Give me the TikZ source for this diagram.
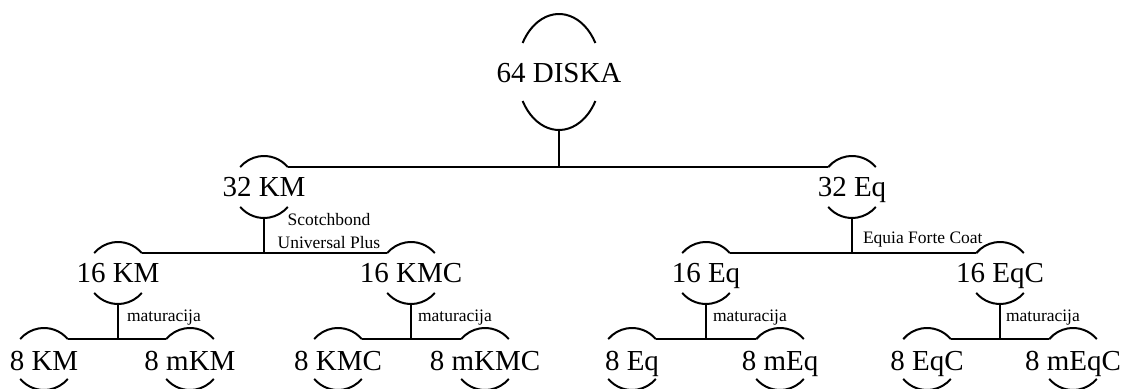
\documentclass[tikz,border=0pt]{standalone}
\usepackage{fontspec}
\setmainfont{Liberation Serif}
\usetikzlibrary{shapes.geometric,calc}
\begin{document}
\begin{tikzpicture}[x=1pt,y=1pt,line width=2pt,
  disc/.style={circle,minimum size=62pt,inner sep=0pt,outer sep=0pt},
  big/.style={font=\fontsize{29}{34}\selectfont,inner sep=0pt,anchor=base},
  small/.style={font=\fontsize{17.5}{23}\selectfont,inner sep=0pt}]
\useasboundingbox (0,0) rectangle (1126,388);
\clip (0,0) rectangle (1126,388);
% root
\node[ellipse,minimum width=84pt,minimum height=116pt,inner sep=0pt,outer sep=0pt] (disk) at (559,316) {};
\draw ($(disk.center)+(30:42pt and 58pt)$) arc[start angle=30,end angle=150,x radius=42pt,y radius=58pt];
\draw ($(disk.center)+(210:42pt and 58pt)$) arc[start angle=210,end angle=330,x radius=42pt,y radius=58pt];
\node[big] (tdisk) at (559,305) {64 DISKA};
% level 1
\node[disc] (km32) at (264,201) {};
\node[disc] (eq32) at (852,201) {};
% level 2
\node[disc] (km16) at (118,115) {};
\node[disc] (kmc16) at (411,115) {};
\node[disc] (eq16) at (706,115) {};
\node[disc] (eqc16) at (1000,115) {};
% level 3
\node[disc] (km8) at (44,29) {};
\node[disc] (mkm8) at (190,29) {};
\node[disc] (kmc8) at (338,29) {};
\node[disc] (mkmc8) at (485,29) {};
\node[disc] (eq8) at (632,29) {};
\node[disc] (meq8) at (780,29) {};
\node[disc] (eqc8) at (927,29) {};
\node[disc] (meqc8) at (1073,29) {};
\foreach \n in {km32,eq32,km16,kmc16,eq16,eqc16,km8,mkm8,kmc8,mkmc8,eq8,meq8,eqc8,meqc8}{
  \draw (\n.40) arc[start angle=40,end angle=140,radius=31pt];
  \draw (\n.220) arc[start angle=220,end angle=320,radius=31pt];
}
% texts
\node[big] (tkm32) at (264,191) {32 KM};
\node[big] (teq32) at (852,191) {32 Eq};
\node[big] (tkm16) at (118,105) {16 KM};
\node[big] (tkmc16) at (411,105) {16 KMC};
\node[big] (teq16) at (706,105) {16 Eq};
\node[big] (teqc16) at (1000,105) {16 EqC};
\node[big] (tkm8) at (44,18) {8 KM};
\node[big] (tmkm8) at (190,18) {8 mKM};
\node[big] (tkmc8) at (338,18) {8 KMC};
\node[big] (tmkmc8) at (485,18) {8 mKMC};
\node[big] (teq8) at (632,18) {8 Eq};
\node[big] (tmeq8) at (780,18) {8 mEq};
\node[big] (teqc8) at (927,18) {8 EqC};
\node[big] (tmeqc8) at (1073,18) {8 mEqC};
% connectors
\draw (disk.south) -- (disk.south |- km32.40);
\draw (km32.40) -- (eq32.140);
\draw (km32.south) -- (km32.south |- km16.40);
\draw (km16.40) -- (kmc16.140);
\draw (eq32.south) -- (eq32.south |- eq16.40);
\draw (eq16.40) -- (eqc16.140);
\draw (km16.south) -- (km16.south |- km8.40);
\draw (km8.40) -- (mkm8.140);
\draw (kmc16.south) -- (kmc16.south |- kmc8.40);
\draw (kmc8.40) -- (mkmc8.140);
\draw (eq16.south) -- (eq16.south |- eq8.40);
\draw (eq8.40) -- (meq8.140);
\draw (eqc16.south) -- (eqc16.south |- eqc8.40);
\draw (eqc8.40) -- (meqc8.140);
% labels
\node[small,align=center] (lscotch) at (329,157) {Scotchbond\\Universal Plus};
\node[small,anchor=base west] (lequia) at (862,144) {Equia Forte Coat};
\node[small,anchor=base west] (lmat1) at (126,66) {maturacija};
\node[small,anchor=base west] (lmat2) at (417,66) {maturacija};
\node[small,anchor=base west] (lmat3) at (712,66) {maturacija};
\node[small,anchor=base west] (lmat4) at (1005,66) {maturacija};
\end{tikzpicture}
\end{document}
